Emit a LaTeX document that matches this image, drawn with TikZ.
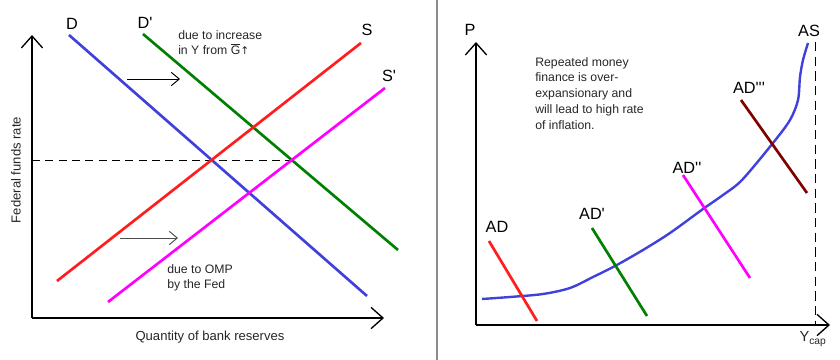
\documentclass[tikz,border=0pt]{standalone}
\usepackage{fontspec}
\setmainfont{Liberation Sans}
\newfontfamily\arrowfont{DejaVu Sans}
\usetikzlibrary{arrows.meta,positioning}

\begin{document}
\begin{tikzpicture}[
  x=0.75pt, y=-0.75pt,
  curve/.style={line width=2pt},
  axis/.style={line width=1.4pt, -{Straight Barb[length=9pt, width=16pt, line width=1pt]}},
  shiftarr/.style={line width=0.7pt, -{Straight Barb[length=6pt, width=10pt, line width=0.7pt]}},
  lbl/.style={font=\fontsize{12.2}{14}\selectfont, inner sep=0pt},
  note/.style={font=\fontsize{9.2}{11.8}\selectfont, align=left, text=black!85, inner sep=0pt, anchor=north west},
  axlbl/.style={font=\fontsize{9.8}{12}\selectfont, inner sep=0pt, text=black!85}
]
\definecolor{dblue}{RGB}{64,64,220}
\definecolor{dgreen}{RGB}{0,128,0}
\definecolor{dred}{RGB}{255,30,30}
\definecolor{dmag}{RGB}{255,0,255}
\definecolor{dmaroon}{RGB}{128,0,0}
\useasboundingbox (0,0) rectangle (840,360);

% left panel: reserves market
\coordinate (lo) at (32,318);
\coordinate (ltop) at (32,35);
\coordinate (lright) at (384,318);
\draw[axis] (lo) -- (ltop);
\draw[axis] (lo) -- (lright);
\draw[dashed, line width=0.7pt, dash pattern=on 6pt off 4pt] (32,160) -- (292,160);

\draw[curve, dblue] (69,35) -- (367,296);
\draw[curve, dgreen] (143,34) -- (398,250);
\draw[curve, dred] (57,281) -- (361,43);
\draw[curve, dmag] (108,302) -- (385,88);

\node[lbl] (d) at (72,24) {D};
\node[lbl] (dp) at (145,23) {D\textquotesingle};
\node[lbl] (s) at (367,30) {S};
\node[lbl] (sp) at (389,76) {S\textquotesingle};

\coordinate (g1) at (127,79);
\coordinate (g2) at (180,79);
\draw[shiftarr] (g1) -- (g2);
\coordinate (m1) at (120,238);
\coordinate (m2) at (178,238);
\draw[shiftarr, black!70] (m1) -- (m2);

\node[note] (gnote) at (178,30) {due to increase\\in Y from \ensuremath{\overline{\mbox{G}}}{\arrowfont\fontsize{8}{10}\selectfont ↑}};
\node[note] (omp) at (167,264) {due to OMP\\by the Fed};
\node[axlbl, rotate=90] (ylab) at (16,170) {Federal funds rate};
\node[axlbl] (xlab) at (210,337) {Quantity of bank reserves};

% divider
\draw[black!45, line width=1.5pt] (437,0) -- (437,360);

% right panel: AD-AS
\coordinate (ro) at (476,325);
\coordinate (rtop) at (476,42);
\coordinate (rright) at (830,325);
\draw[axis] (ro) -- (rtop);
\draw[axis] (ro) -- (rright);
\draw[dashed, line width=0.7pt, dash pattern=on 7pt off 4pt] (815,42) -- (815,325);

\draw[curve, dblue, line width=1.8pt] plot[smooth, tension=0.5] coordinates {
  (482,299) (510,297) (543,294) (570,288) (593,277) (615,266) (643,250)
  (670,233) (703,209) (723,195) (742,180) (773,143) (790,120) (798,100)
  (800,77) (803,60) (808,43)};

\draw[curve, dred] (489,241) -- (537,321);
\draw[curve, dgreen] (592,228) -- (647,316);
\draw[curve, dmag] (683,175) -- (750,278);
\draw[curve, dmaroon] (741,100) -- (807,193);

\node[lbl] (p) at (470,30) {P};
\node[lbl] (as) at (809,31) {AS};
\node[lbl] (ad) at (497,227) {AD};
\node[lbl] (ad1) at (592,214) {AD\textquotesingle};
\node[lbl] (ad2) at (687,168) {AD\textquotesingle\textquotesingle};
\node[lbl] (ad3) at (749,88) {AD\textquotesingle\textquotesingle\textquotesingle};
\node[axlbl, font=\fontsize{11}{13}\selectfont] (ycap) at (813,339) {Y\textsubscript{cap}};

\node[note] (infl) at (535,57) {Repeated money\\finance is over-\\expansionary and\\will lead to high rate\\of inflation.};
\end{tikzpicture}
\end{document}
